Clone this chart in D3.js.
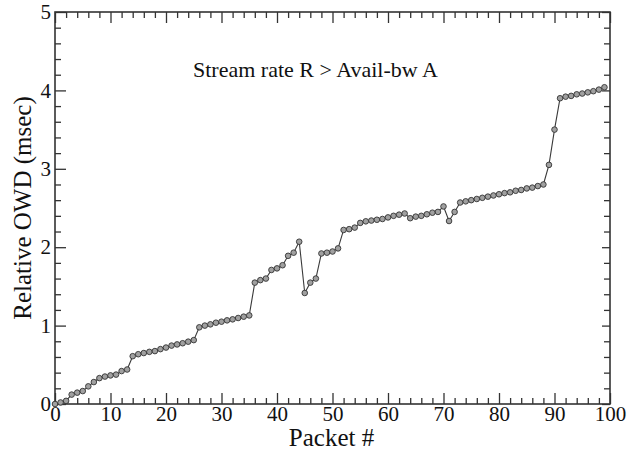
<!DOCTYPE html>
<html>
<head>
<meta charset="utf-8">
<script src="https://cdn.jsdelivr.net/npm/d3@7"></script>
<style>
  html, body { margin: 0; padding: 0; background: #fff; }
  svg { display: block; }
</style>
</head>
<body>
<svg id="chart" width="636" height="454"></svg>
<script>
// ---- data ----
const packets = d3.range(0, 100);
const owd = [
  0.00, 0.02, 0.04, 0.12, 0.145, 0.165, 0.225, 0.28, 0.33, 0.35,
  0.365, 0.375, 0.42, 0.44, 0.61, 0.635, 0.65, 0.665, 0.675, 0.70,
  0.72, 0.745, 0.76, 0.775, 0.795, 0.815, 0.978, 1.00, 1.016, 1.037,
  1.05, 1.067, 1.08, 1.097, 1.114, 1.13, 1.548, 1.58, 1.60, 1.71,
  1.73, 1.77, 1.89, 1.93, 2.07, 1.416, 1.548, 1.60, 1.92, 1.93,
  1.945, 1.985, 2.22, 2.23, 2.25, 2.31, 2.33, 2.34, 2.35, 2.36,
  2.38, 2.40, 2.415, 2.43, 2.37, 2.39, 2.40, 2.42, 2.44, 2.45,
  2.52, 2.334, 2.45, 2.57, 2.585, 2.60, 2.615, 2.63, 2.645, 2.66,
  2.675, 2.69, 2.70, 2.72, 2.73, 2.75, 2.76, 2.78, 2.80, 3.05,
  3.50, 3.90, 3.92, 3.93, 3.95, 3.96, 3.975, 3.99, 4.01, 4.04
];
const xTickLabels = [0, 10, 20, 30, 40, 50, 60, 70, 80, 90, 100];
const yTickLabels = [0, 1, 2, 3, 4, 5];
const xTitle = "Packet #";
const yTitle = "Relative OWD (msec)";
const note = "Stream rate R > Avail-bw A";

// ---- layout ----
const FONT = "'Liberation Serif', 'Times New Roman', Times, serif";
const svg = d3.select("#chart").attr("font-family", FONT);
const L = 55, R = 610, T = 12, B = 404;
const x = d3.scaleLinear().domain([0, 100]).range([L, R]);
const y = d3.scaleLinear().domain([0, 5]).range([B, T]);
const axisColor = "#333";

const xMinor = d3.range(0, 101, 2).filter(v => v % 10 !== 0);
const yMinor = d3.range(0, 5.01, 0.2).map(v => +v.toFixed(1)).filter(v => Math.abs(v - Math.round(v)) > 1e-6);

function styleAxis(g) {
  g.attr("font-family", FONT);
  g.select(".domain").remove();
  g.selectAll(".tick line").attr("stroke", axisColor).attr("stroke-width", 1.3);
  g.selectAll("text").attr("font-family", FONT).attr("fill", "#111");
}

// bottom major (inward ticks, labels)
svg.append("g").attr("transform", `translate(0,${B})`)
  .call(d3.axisBottom(x).tickValues(xTickLabels).tickSize(-11).tickPadding(6).tickFormat(d3.format("d")))
  .call(styleAxis)
  .call(g => g.selectAll("text").attr("font-size", 21).attr("dy", "0.5em"));
// bottom minor
svg.append("g").attr("transform", `translate(0,${B})`)
  .call(d3.axisBottom(x).tickValues(xMinor).tickSize(-6).tickFormat(""))
  .call(styleAxis);
// top major/minor
svg.append("g").attr("transform", `translate(0,${T})`)
  .call(d3.axisTop(x).tickValues(xTickLabels).tickSize(-11).tickFormat(""))
  .call(styleAxis);
svg.append("g").attr("transform", `translate(0,${T})`)
  .call(d3.axisTop(x).tickValues(xMinor).tickSize(-6).tickFormat(""))
  .call(styleAxis);
// left major
svg.append("g").attr("transform", `translate(${L},0)`)
  .call(d3.axisLeft(y).tickValues(yTickLabels).tickSize(-11).tickPadding(6).tickFormat(d3.format("d")))
  .call(styleAxis)
  .call(g => g.selectAll("text").attr("font-size", 21).attr("x", -4));
// left minor
svg.append("g").attr("transform", `translate(${L},0)`)
  .call(d3.axisLeft(y).tickValues(yMinor).tickSize(-6).tickFormat(""))
  .call(styleAxis);
// right ticks
svg.append("g").attr("transform", `translate(${R},0)`)
  .call(d3.axisRight(y).tickValues(yTickLabels).tickSize(-8).tickFormat(""))
  .call(styleAxis);
svg.append("g").attr("transform", `translate(${R},0)`)
  .call(d3.axisRight(y).tickValues(yMinor).tickSize(-6).tickFormat(""))
  .call(styleAxis);

// frame
svg.append("rect")
  .attr("x", L).attr("y", T).attr("width", R - L).attr("height", B - T)
  .attr("fill", "none").attr("stroke", axisColor).attr("stroke-width", 1.6);

// line
const pts = packets.map((p, i) => ({ p, v: owd[i] }));
svg.append("path")
  .datum(pts)
  .attr("fill", "none")
  .attr("stroke", "#3a3a3a")
  .attr("stroke-width", 1.1)
  .attr("d", d3.line().x(d => x(d.p)).y(d => y(d.v)));

// markers
svg.append("g").selectAll("circle")
  .data(pts).join("circle")
  .attr("cx", d => x(d.p)).attr("cy", d => y(d.v))
  .attr("r", 2.8)
  .attr("fill", "#a0a0a0")
  .attr("stroke", "#333")
  .attr("stroke-width", 0.9);

// titles
svg.append("text")
  .attr("x", (L + R) / 2 - 1).attr("y", 446)
  .attr("text-anchor", "middle").attr("font-size", 25).attr("fill", "#111")
  .attr("font-family", FONT)
  .text(xTitle);
svg.append("text")
  .attr("transform", `translate(31,208) rotate(-90)`)
  .attr("text-anchor", "middle").attr("font-size", 25).attr("fill", "#111")
  .attr("font-family", FONT)
  .text(yTitle);
svg.append("text")
  .attr("x", 193).attr("y", 77)
  .attr("font-size", 22).attr("fill", "#111")
  .attr("font-family", FONT)
  .text(note);
</script>
</body>
</html>
